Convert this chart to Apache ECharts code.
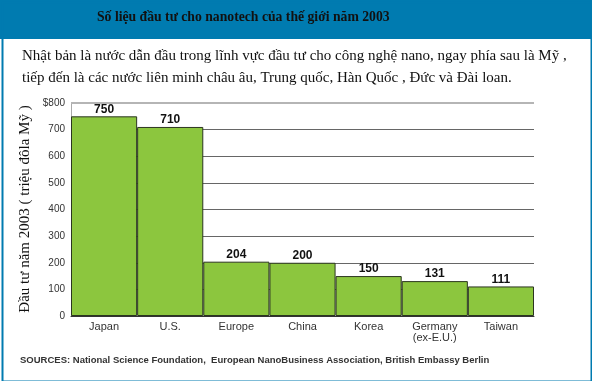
<!DOCTYPE html>
<html><head><meta charset="utf-8">
<script src="https://cdn.jsdelivr.net/npm/echarts@6/dist/echarts.min.js"></script>
<style>html,body{margin:0;padding:0;background:#fff}#c{width:592px;height:381px}</style>
</head><body><div id="c"></div>
<script>
var categories = ['Japan', 'U.S.', 'Europe', 'China', 'Korea', 'Germany\n(ex-E.U.)', 'Taiwan'];
var values = [750, 710, 204, 200, 150, 131, 111];
var yTicks = [0, 100, 200, 300, 400, 500, 600, 700, 800];
var titleText = 'Số liệu đầu tư cho nanotech của thế giới năm 2003';
var subLine1 = 'Nhật bản là nước dẫn đầu trong lĩnh vực đầu tư cho công nghệ nano, ngay phía sau là Mỹ ,';
var subLine2 = 'tiếp đến là các nước liên minh châu âu, Trung quốc, Hàn Quốc , Đức và Đài loan.';
var yTitle = 'Đầu tư năm 2003 ( triệu đôla Mỹ )';
var sourceText = 'SOURCES: National Science Foundation,  European NanoBusiness Association, British Embassy Berlin';

var chart = echarts.init(document.getElementById('c'));
chart.setOption({
  backgroundColor: '#fff',
  animation: false,
  grid: {left: 71, right: 58, top: 103, bottom: 65},
  xAxis: {
    type: 'category', data: categories,
    axisLine: {show: true, lineStyle: {color: '#333', width: 1}},
    axisTick: {show: false},
    axisLabel: {color: '#333', fontFamily: 'Arial, Liberation Sans', fontSize: 11, margin: 5, lineHeight: 11}
  },
  yAxis: {
    type: 'value', min: 0, max: 800, interval: 100,
    axisLine: {show: true, lineStyle: {color: '#aaa', width: 1}},
    axisTick: {show: false},
    axisLabel: {color: '#333', fontFamily: 'Arial, Liberation Sans', fontSize: 10, margin: 6,
      formatter: function (v) { return v === yTicks[yTicks.length - 1] ? '$' + v : '' + v; }},
    splitLine: {show: true, lineStyle: {color: ['#666', '#666', '#666', '#666', '#666', '#666', '#666', '#666', '#bbb'], width: 1}}
  },
  series: [{
    type: 'bar', data: values, barCategoryGap: '0%',
    itemStyle: {color: '#8cc63e', borderColor: '#2b3520', borderWidth: 1},
    label: {show: true, position: 'top', color: '#111', fontFamily: 'Arial, Liberation Sans', fontWeight: 'bold', fontSize: 12, distance: 1},
    markLine: {silent: true, symbol: 'none', label: {show: false},
      lineStyle: {color: '#b5b5b5', width: 2, type: 'solid'},
      data: [{yAxis: 800}]}
  }],
  graphic: [
    {type: 'rect', left: 0, top: 0, shape: {width: 592, height: 39}, style: {fill: '#007bb0'}, z: 0},
    {type: 'rect', left: 0, top: 0, shape: {x: 0.5, y: 0.5, width: 589, height: 379}, style: {fill: null, stroke: '#007bb0', lineWidth: 2}, z: 0},
    {type: 'text', left: 97, top: 10, style: {text: titleText, fill: '#111', font: 'bold 13.7px "Liberation Serif", "Times New Roman", serif'}},
    {type: 'text', left: 22, top: 49, style: {text: subLine1, fill: '#111', font: '15px "Liberation Serif", "Times New Roman", serif'}},
    {type: 'text', left: 22, top: 71, style: {text: subLine2, fill: '#111', font: '15px "Liberation Serif", "Times New Roman", serif'}},
    {type: 'text', x: 25, y: 209, rotation: Math.PI / 2, style: {text: yTitle, fill: '#111', align: 'center', verticalAlign: 'middle', font: '15px "Liberation Serif", "Times New Roman", serif'}},
    {type: 'text', left: 20, top: 355, style: {text: sourceText, fill: '#333', font: 'bold 9.5px Arial, "Liberation Sans", sans-serif'}}
  ]
});
</script></body></html>
